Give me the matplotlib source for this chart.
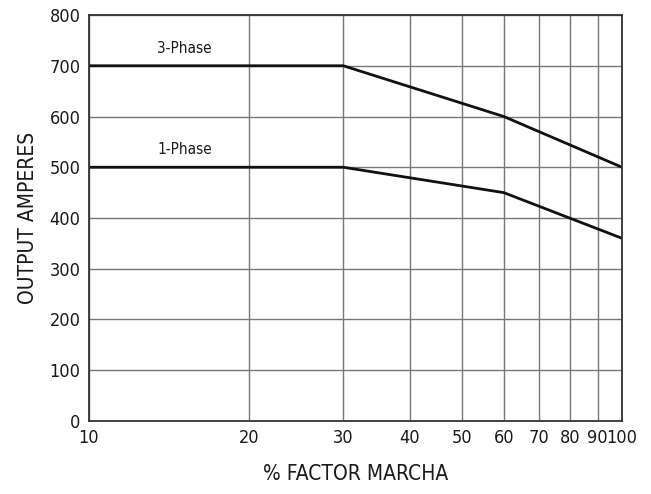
import matplotlib.pyplot as plt
from matplotlib.ticker import NullLocator

plt.rcParams['font.family'] = ['DejaVu Sans']
plt.rcParams['font.stretch'] = 'condensed'

# duty cycle (%) and output current
duty = [10, 30, 60, 100]
three_phase = [700, 700, 600, 500]
one_phase = [500, 500, 450, 360]

x_ticks = [10, 20, 30, 40, 50, 60, 70, 80, 90, 100]
y_ticks = [0, 100, 200, 300, 400, 500, 600, 700, 800]

fig = plt.figure(figsize=(6.51, 4.94), dpi=100)
ax = fig.add_axes([0.1367, 0.1478, 0.8188, 0.8218])

ax.set_xscale('log')
ax.set_xlim(10, 100)
ax.set_ylim(0, 800)
ax.xaxis.set_minor_locator(NullLocator())
ax.set_xticks(x_ticks)
ax.set_xticklabels([str(t) for t in x_ticks])
ax.set_yticks(y_ticks)
ax.grid(True, color='#777777', linewidth=1.0)
ax.tick_params(length=0, labelsize=13, colors='#1a1a1a', pad=6)
for s in ax.spines.values():
    s.set_color('#333333')
    s.set_linewidth(1.3)

ax.plot(duty, three_phase, color='#111111', linewidth=2.0)
ax.plot(duty, one_phase, color='#111111', linewidth=2.0)

ax.text(15.1, 720, '3-Phase', fontsize=11, ha='center', va='bottom', color='#1a1a1a')
ax.text(15.1, 520, '1-Phase', fontsize=11, ha='center', va='bottom', color='#1a1a1a')

ax.set_xlabel('% FACTOR MARCHA', fontsize=15, color='#1a1a1a', labelpad=12)
ax.set_ylabel('OUTPUT AMPERES', fontsize=15, color='#1a1a1a', labelpad=8)

fig.savefig('out.png', dpi=100)
